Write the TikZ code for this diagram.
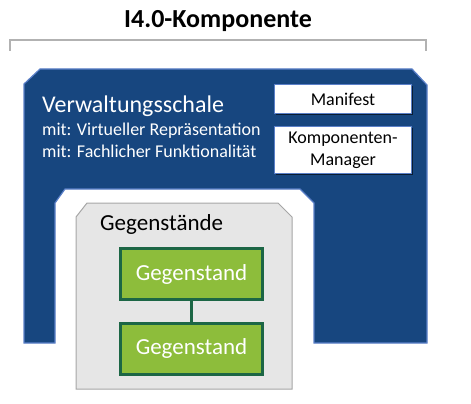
\documentclass[tikz,border=0pt]{standalone}
\usepackage{fontspec}
\setmainfont{Carlito}
\usetikzlibrary{positioning,shadows}
\definecolor{vwsblue}{HTML}{17467F}
\definecolor{vwsedge}{HTML}{5A7FC8}
\definecolor{gsgray}{HTML}{E6E6E6}
\definecolor{gsedge}{HTML}{A6A6A6}
\definecolor{gsgreen}{HTML}{8DBD3B}
\definecolor{gsdark}{HTML}{1C6645}

\begin{document}
\begin{tikzpicture}[x=1pt, y=-1pt, every node/.style={inner sep=0pt},
		infobox/.style={draw=vwsedge, line width=1.5pt, fill=white, minimum width=137pt, align=center, font=\fontsize{18}{22}\selectfont,
			drop shadow={shadow xshift=1.5pt, shadow yshift=-1.5pt, opacity=0.6, fill=black}},
		gsbox/.style={draw=gsdark, line width=3pt, fill=gsgreen, minimum width=142pt, minimum height=51pt, text=white, font=\fontsize{23}{26}\selectfont}]
			\useasboundingbox (0,0) rectangle (471,404);

			% Title and bracket
			\node[font=\fontsize{26}{30}\selectfont\bfseries] (title) at (218,21) {I4.0-Komponente};
			\draw[black!30, line width=1.5pt] (10,51) -- (10,40) -- (426,40) -- (426,51);

			% Verwaltungsschale
			\draw[fill=vwsblue, draw=vwsedge, line width=1.2pt] (24,84) -- (40,69) -- (412,69) -- (427,85) -- (427,343) -- (314,343) -- (314,203) -- (300,189) -- (65,189) -- (55,203) -- (55,343) -- (24,343) -- cycle;
			\node[anchor=base west, text=white, font=\fontsize{24}{28}\selectfont] (vws) at (42,112) {Verwaltungsschale};
			\node[anchor=base west, text=white, font=\fontsize{18}{22}\selectfont] (virt) at (42,135) {mit: Virtueller Repräsentation};
			\node[anchor=base west, text=white, font=\fontsize{18}{22}\selectfont] (fach) at (42,157) {mit: Fachlicher Funktionalität};
			\node[infobox, minimum height=29pt] (manifest) at (343,99) {Manifest};
			\node[infobox, minimum height=47pt] (manager) at (343,150) {Komponenten-\\Manager};

			% Gegenstaende
			\draw[fill=gsgray, draw=gsedge, line width=1pt] (76,217) -- (87,203) -- (278,203) -- (292,217) -- (292,389) -- (76,389) -- cycle;
			\node[anchor=base west, font=\fontsize{23}{26}\selectfont] (gs) at (100,230) {Gegenstände};
			\node[gsbox] (gs1) at (191.5,274) {Gegenstand};
			\node[gsbox] (gs2) at (191.5,348.5) {Gegenstand};
			\draw[gsdark, line width=3pt] (gs1) -- (gs2);
		\end{tikzpicture}
\end{document}
